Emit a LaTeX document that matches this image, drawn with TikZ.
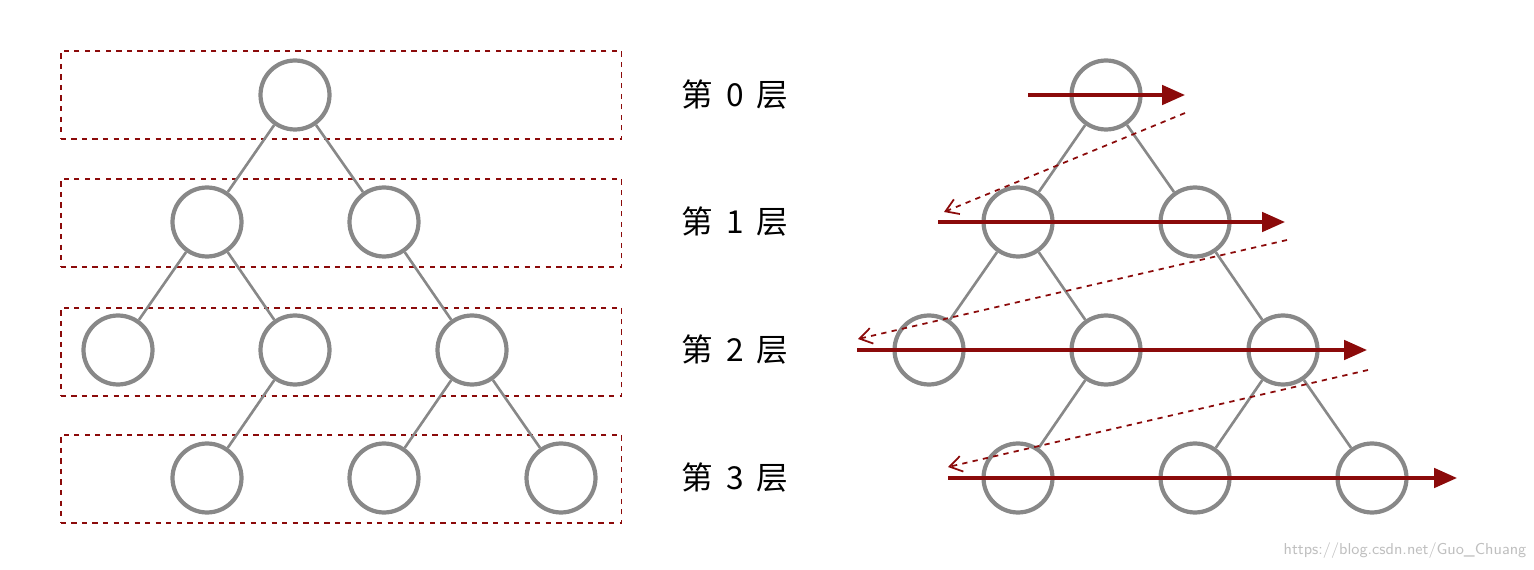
\documentclass[tikz,border=0pt]{standalone}
\usepackage{fontspec}
\newfontfamily\cjk{Noto Sans CJK SC}
\usetikzlibrary{arrows.meta}
\definecolor{dred}{HTML}{8B0A0A}
\definecolor{cgray}{HTML}{888888}
\tikzset{
 tn/.style={circle,draw=cgray,line width=2.4pt,minimum size=1.38cm,inner sep=0pt},
 ed/.style={cgray,line width=1.5pt},
 lbox/.style={draw=dred,dashed,line width=0.9pt},
 lab/.style={font=\cjk\fontsize{18}{20}\selectfont},
 sarr/.style={dred,line width=2pt,-{Triangle[length=13pt,width=11pt]}},
 darr/.style={dred,dashed,line width=1pt,-{Straight Barb[length=7pt,width=9pt]}}
}
\begin{document}
\begin{tikzpicture}[x=0.02cm,y=-0.02cm]
\useasboundingbox (0,0) rectangle (1534,570);
\foreach \n/\y in {0/50,1/178,2/307,3/434}
 \node[lbox,minimum width=11.22cm,minimum height=1.76cm,anchor=north west] (box\n) at (60,\y) {};
% left tree
\node[tn] (a0) at (295,95) {};
\node[tn] (a1) at (207,222) {};
\node[tn] (a2) at (384,222) {};
\node[tn] (a3) at (118,350) {};
\node[tn] (a4) at (295,350) {};
\node[tn] (a5) at (472,350) {};
\node[tn] (a6) at (207,478) {};
\node[tn] (a7) at (384,478) {};
\node[tn] (a8) at (561,478) {};
\foreach \u/\v in {a0/a1,a0/a2,a1/a3,a1/a4,a2/a5,a4/a6,a5/a7,a5/a8}
 \draw[ed] (\u) -- (\v);
% labels
\node[lab] (t0) at (735,95) {第\hspace{0.4em}0\hspace{0.4em}层};
\node[lab] (t1) at (735,222) {第\hspace{0.4em}1\hspace{0.4em}层};
\node[lab] (t2) at (735,350) {第\hspace{0.4em}2\hspace{0.4em}层};
\node[lab] (t3) at (735,478) {第\hspace{0.4em}3\hspace{0.4em}层};
% right tree
\node[tn] (b0) at (1106,95) {};
\node[tn] (b1) at (1018,222) {};
\node[tn] (b2) at (1195,222) {};
\node[tn] (b3) at (929,350) {};
\node[tn] (b4) at (1106,350) {};
\node[tn] (b5) at (1283,350) {};
\node[tn] (b6) at (1018,478) {};
\node[tn] (b7) at (1195,478) {};
\node[tn] (b8) at (1372,478) {};
\foreach \u/\v in {b0/b1,b0/b2,b1/b3,b1/b4,b2/b5,b4/b6,b5/b7,b5/b8}
 \draw[ed] (\u) -- (\v);
% arrows
\coordinate (s0) at (1028,95); \coordinate (e0) at (1185,95);
\coordinate (s1) at (938,222); \coordinate (e1) at (1285,222);
\coordinate (s2) at (857,350); \coordinate (e2) at (1367,350);
\coordinate (s3) at (948,478); \coordinate (e3) at (1457,478);
\foreach \i in {0,1,2,3} \draw[sarr] (s\i) -- (e\i);
\coordinate (d0) at (1185,113); \coordinate (f0) at (944,212);
\coordinate (d1) at (1287,240); \coordinate (f1) at (858,339);
\coordinate (d2) at (1368,370); \coordinate (f2) at (948,467);
\foreach \i in {0,1,2} \draw[darr] (d\i) -- (f\i);
\node[font=\fontfamily{lmss}\selectfont\small,text=black!25] (wm) at (1405,551) {https://blog.csdn.net/Guo\_Chuang};
\end{tikzpicture}
\end{document}
